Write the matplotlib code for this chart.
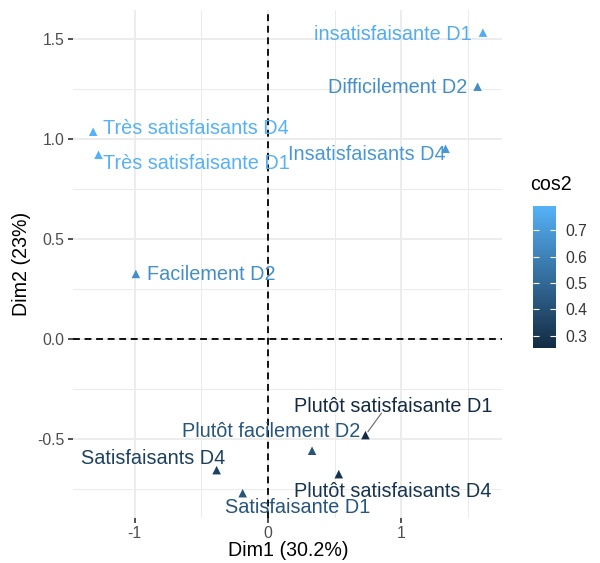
import matplotlib
matplotlib.use("Agg")
import matplotlib.pyplot as plt
import numpy as np
from matplotlib.colors import LinearSegmentedColormap, Normalize

# ---- data ----
labels = ["insatisfaisante D1", "Difficilement D2", "Insatisfaisants D4",
          "Très satisfaisants D4", "Très satisfaisante D1", "Facilement D2",
          "Satisfaisants D4", "Satisfaisante D1", "Plutôt facilement D2",
          "Plutôt satisfaisante D1", "Plutôt satisfaisants D4"]
dim1 = [1.61, 1.57, 1.33, -1.31, -1.27, -0.99, -0.385, -0.19, 0.33, 0.73, 0.53]
dim2 = [1.53, 1.26, 0.95, 1.035, 0.92, 0.325, -0.655, -0.77, -0.558, -0.48, -0.675]
cos2 = [0.77, 0.65, 0.69, 0.79, 0.79, 0.65, 0.34, 0.42, 0.42, 0.253, 0.29]
cos2_ticks = [0.3, 0.4, 0.5, 0.6, 0.7]
x_ticks = [-1, 0, 1]
y_ticks = [-0.5, 0.0, 0.5, 1.0, 1.5]

# label offsets (pixels) relative to points - layout only
label_offsets = [(-90, -2), (-80, -1), (-79, -6), (103, 3), (98, -9), (75, -1),
                 (-63, 12), (55, -14), (-41, 19), (28, 29), (54, -17)]
# repel segment end (pixels offset from point) for labels that need one
segment_ends = {"Plutôt satisfaisante D1": (16, 22)}

plt.rcParams['font.family'] = ['Liberation Sans', 'DejaVu Sans']

cmap = LinearSegmentedColormap.from_list("gg", ["#132B43", "#346E9D", "#56B1F7"])
norm = Normalize(vmin=0.253, vmax=0.792)

fig = plt.figure(figsize=(6.0, 5.63), dpi=100)
ax = fig.add_axes([73/600, 45/563, (502-73)/600, (518-10)/563])
ax.set_xlim(-1.461, 1.753)
ax.set_ylim(-0.894, 1.643)

for s in ax.spines.values():
    s.set_visible(False)
ax.set_xticks(x_ticks)
ax.set_xticklabels([str(t) for t in x_ticks])
ax.set_yticks(y_ticks)
ax.set_yticklabels([f"{t:.1f}" for t in y_ticks])
ax.set_xticks([-0.5, 0.5, 1.5], minor=True)
ax.set_yticks([-0.75, -0.25, 0.25, 0.75, 1.25], minor=True)
ax.tick_params(which='major', length=3.5, width=1.2, color='#333333',
               labelsize=11.3, labelcolor='#4D4D4D', pad=2.5)
ax.tick_params(which='minor', length=0)
ax.grid(which='major', color='#EBEBEB', linewidth=1.3)
ax.grid(which='minor', color='#EBEBEB', linewidth=0.7)
ax.set_axisbelow(True)

ax.axhline(0, color='black', linewidth=1.3, linestyle=(0, (3.8, 2.6)), zorder=2)
ax.axvline(0, color='black', linewidth=1.3, linestyle=(0, (3.8, 2.6)), zorder=2)

cols = cmap(norm(np.array(cos2)))
ax.scatter(dim1, dim2, c=cos2, cmap=cmap, norm=norm, marker='^', s=38,
           linewidths=0, zorder=3)

for lab, x, y, c, off in zip(labels, dim1, dim2, cols, label_offsets):
    ax.annotate(lab, xy=(x, y), xytext=off, textcoords='offset pixels',
                ha='center', va='center', fontsize=14.3, color=c, zorder=4)
    if lab in segment_ends:
        ax.annotate('', xy=(x, y), xytext=segment_ends[lab],
                    textcoords='offset pixels', zorder=4,
                    arrowprops=dict(arrowstyle='-', color='#666666', lw=0.8,
                                    shrinkA=0, shrinkB=3))

fig.text(288/600, 1 - 550/563, "Dim1 (30.2%)", ha='center', va='center',
         fontsize=14.1, color='black')
fig.text(22/600, 1 - 264/563, "Dim2 (23%)", ha='center', va='center',
         fontsize=14.1, color='black', rotation=90)

# colorbar
cax = fig.add_axes([533/600, 1 - 348/563, 23/600, 142/563])
sm = plt.cm.ScalarMappable(cmap=cmap, norm=norm)
cb = fig.colorbar(sm, cax=cax, ticks=cos2_ticks)
cb.outline.set_visible(False)
cb.ax.set_yticklabels([f"{t:.1f}" for t in cos2_ticks])
cb.ax.tick_params(axis='y', which='major', direction='in', length=4.5, width=0.8,
                  color='white', labelsize=11.3, labelcolor='#333333',
                  left=True, right=True, pad=7)
cb.ax.minorticks_off()
fig.text(530/600, 1 - 185/563, "cos2", ha='left', va='center', fontsize=14.1,
         color='black')

fig.savefig("out.png", dpi=100, facecolor='white')
